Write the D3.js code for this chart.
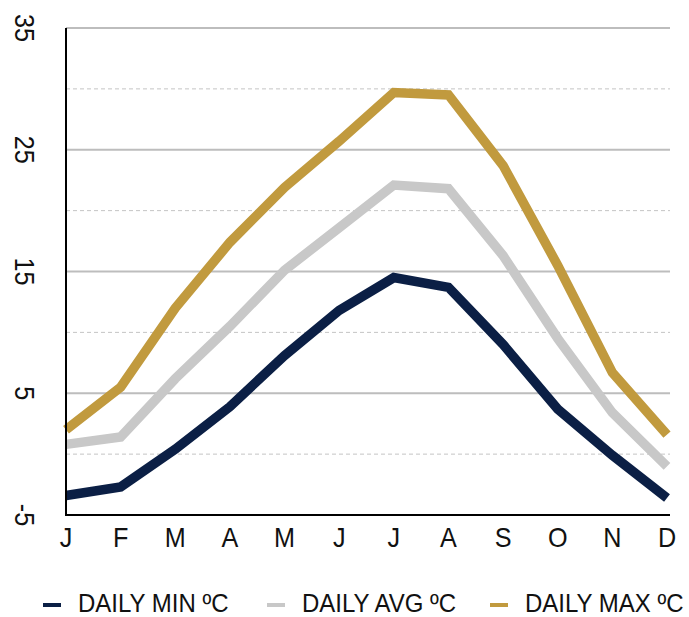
<!DOCTYPE html>
<html>
<head>
<meta charset="utf-8">
<script src="https://cdn.jsdelivr.net/npm/d3@7"></script>
<style>
  body { margin: 0; background: #fff; }
  text { font-family: "Liberation Sans", Arial, sans-serif; fill: #111; }
</style>
</head>
<body>
<div id="chart"></div>
<script>
var months = ['J', 'F', 'M', 'A', 'M', 'J', 'J', 'A', 'S', 'O', 'N', 'D'];
var dailyMin = [-3.4, -2.7, 0.4, 3.9, 8.1, 11.8, 14.5, 13.7, 9.0, 3.7, -0.1, -3.6];
var dailyAvg = [0.8, 1.4, 6.2, 10.5, 15.1, 18.6, 22.1, 21.8, 16.3, 9.5, 3.4, -1.0];
var dailyMax = [2.0, 5.5, 12.0, 17.4, 21.9, 25.7, 29.7, 29.5, 23.7, 15.5, 6.7, 1.6];
var solidTicks = [35, 25, 15, 5];
var dashedTicks = [30, 20, 10, 0];
var yLabels = [35, 25, 15, 5, -5];
var series = [
  { name: 'DAILY MIN ºC', values: dailyMin, color: '#0b1f45' },
  { name: 'DAILY AVG ºC', values: dailyAvg, color: '#c8c8c8' },
  { name: 'DAILY MAX ºC', values: dailyMax, color: '#c19a3e' }
];

var w = 689, h = 617;
var m = { left: 66, right: 670, top: 28, bottom: 515 };

var svg = d3.select('#chart').append('svg')
  .attr('width', w)
  .attr('height', h);

var x = d3.scalePoint()
  .domain(d3.range(months.length))
  .range([m.left, 667]);

var y = d3.scaleLinear()
  .domain([-5, 35])
  .range([m.bottom, m.top]);

// grid
svg.selectAll('.grid-solid').data(solidTicks).enter().append('line')
  .attr('x1', m.left).attr('x2', m.right)
  .attr('y1', function(d) { return y(d); })
  .attr('y2', function(d) { return y(d); })
  .attr('stroke', '#bdbdbd')
  .attr('stroke-width', 2);

svg.selectAll('.grid-dash').data(dashedTicks).enter().append('line')
  .attr('x1', m.left).attr('x2', m.right)
  .attr('y1', function(d) { return y(d); })
  .attr('y2', function(d) { return y(d); })
  .attr('stroke', '#c4c4c4')
  .attr('stroke-width', 1)
  .attr('stroke-dasharray', '4,3');

// y labels, rotated
svg.selectAll('.ylab').data(yLabels).enter().append('text')
  .attr('transform', function(d) { return 'translate(15,' + y(d) + ') rotate(90) scale(0.9,1)'; })
  .attr('text-anchor', 'middle')
  .attr('font-size', 28)
  .text(function(d) { return d; });

// x labels
svg.selectAll('.xlab').data(months).enter().append('text')
  .attr('transform', function(d, i) { return 'translate(' + x(i) + ',547) scale(0.9,1)'; })
  .attr('text-anchor', 'middle')
  .attr('font-size', 28)
  .text(function(d) { return d; });

// lines
var line = d3.line()
  .x(function(d, i) { return x(i); })
  .y(function(d) { return y(d); });

svg.selectAll('.series').data(series).enter().append('path')
  .attr('d', function(d) { return line(d.values); })
  .attr('fill', 'none')
  .attr('stroke', function(d) { return d.color; })
  .attr('stroke-width', 9.5)
  .attr('stroke-linejoin', 'miter');

// axes
svg.append('line')
  .attr('x1', m.left).attr('x2', m.left)
  .attr('y1', m.top).attr('y2', m.bottom + 1)
  .attr('stroke', '#000').attr('stroke-width', 2);
svg.append('line')
  .attr('x1', m.left - 1).attr('x2', m.right)
  .attr('y1', m.bottom).attr('y2', m.bottom)
  .attr('stroke', '#000').attr('stroke-width', 2);

// legend
var legendX = [43, 267, 490];
var lg = svg.selectAll('.legend').data(series).enter().append('g')
  .attr('transform', function(d, i) { return 'translate(' + legendX[i] + ',612)'; });
lg.append('line')
  .attr('x1', 0).attr('x2', 18)
  .attr('y1', -7).attr('y2', -7)
  .attr('stroke', function(d) { return d.color; })
  .attr('stroke-width', 4);
lg.append('text')
  .attr('transform', 'translate(35,0) scale(0.96,1)')
  .attr('font-size', 25)
  .text(function(d) { return d.name; });
</script>
</body>
</html>
